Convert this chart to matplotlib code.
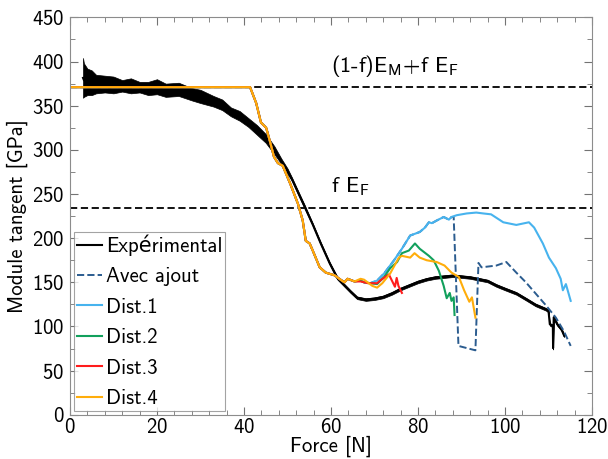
import numpy as np
import matplotlib
matplotlib.use("Agg")
import matplotlib.pyplot as plt

plt.rcParams['font.family'] = ['cmss10', 'DejaVu Sans']
plt.rcParams['axes.unicode_minus'] = False
plt.rcParams['axes.formatter.use_mathtext'] = True
plt.rcParams['mathtext.fontset'] = 'cm'

# courbe experimentale (bande du bruit : bas / haut)
exp_force = [3.0, 3.2, 4, 5, 6, 8, 10, 12, 14, 16, 18, 20, 22, 25, 28, 30, 33, 35, 37, 39,
             41, 43, 45, 47, 48.6, 50, 51, 52.4, 54, 55.8, 57.6, 59.7, 61.5, 63.1, 64.5, 66,
             68, 70, 72, 74, 76, 78, 80, 82, 84, 86, 88, 90, 92, 94, 96, 98, 100, 102.6, 105,
             107, 109.4, 110.0, 110.3, 111.0, 111.05, 111.2, 112, 113, 113.6]
exp_bas = [359, 360, 362, 362, 364, 365, 364, 366, 364, 365, 362, 363, 360, 361, 356, 353, 349, 345, 338, 333,
           326, 317, 308, 295, 284, 273, 265, 250, 233, 214, 193, 170, 153, 145, 138, 131,
           129, 130, 132, 136, 141, 145, 149, 152, 154, 155, 156, 155, 154, 152, 150, 145, 141, 136, 129,
           123, 118, 116, 101, 99, 74, 109, 101, 95, 88]
exp_haut = [404, 398, 392, 390, 385, 384, 383, 379, 381, 377, 377, 380, 375, 376, 370, 368, 361, 357, 348, 344,
            336, 328, 318, 304, 290, 279, 269, 254, 237, 217, 196, 173, 156, 148, 141, 134,
            132, 133, 135, 139, 144, 148, 152, 155, 157, 158, 159, 158, 157, 155, 153, 148, 144, 139, 132,
            126, 121, 119, 104, 102, 77, 112, 104, 98, 91]

# partie commune des distributions
base_force = [0, 41.4, 42.8, 43.9, 45.1, 46.0, 46.9, 47.8, 48.9, 50.6, 52.4, 53.5, 54.2, 55.1, 55.8,
              57.4, 58.8, 60.8, 62.2, 63.1, 63.8, 65.4]
base_mod = [371, 371, 353, 331, 325, 309, 292, 285, 282, 262, 239, 220, 197, 194, 186,
            167, 161, 158, 153, 150, 154, 151]

d1_force = [66.8, 67.6, 69.0, 70.6, 72.2, 74.5, 76.3, 78.2, 79.3, 80.4, 81.6, 82.5, 83.2, 84.3, 85.9,
            87.1, 87.7, 88.9, 91.2, 93.4, 95.0, 96.8, 99.6, 102.6, 105.5, 106.7, 108.7, 110.1,
            111.7, 112.8, 113.3, 114.0, 115.1]
d1_mod = [152, 150, 149, 152, 160, 175, 188, 203, 205, 207, 212, 218, 217, 220, 224,
          221, 224, 226, 228, 229, 228, 227, 218, 215, 218, 212, 194, 178,
          166, 154, 141, 148, 129]

d2_force = [66.8, 67.6, 69.0, 70.6, 72.2, 73.6, 75.2, 76.3, 77.9, 79.3, 80.4, 82.5, 83.6, 84.8,
            85.9, 86.6, 87.3, 87.7, 88.2, 88.4]
d2_mod = [152, 150, 149, 148, 156, 166, 173, 183, 186, 194, 188, 180, 175, 163,
          146, 132, 138, 129, 133, 113]

d3_force = [66.8, 68.5, 70.6, 71.3, 73.3, 74.0, 74.7, 75.1, 75.5, 76.3]
d3_mod = [151, 149, 149, 152, 159, 152, 145, 155, 146, 138]

d4_force = [66.8, 67.6, 69.5, 70.6, 71.8, 73.6, 75.6, 76.3, 78.2, 79.2, 80.4, 82.0, 84.3, 86.1,
            87.7, 89.4, 90.6, 91.8, 92.4, 93.2]
d4_mod = [154, 153, 146, 144, 149, 160, 178, 180, 178, 183, 178, 175, 173, 169,
          161, 156, 141, 128, 133, 110]

ajout_force = [88.2, 89.3, 93.2, 93.9, 94.6, 98.0, 100.3, 102.6, 104.8, 107.1, 109.4, 111.7, 113.5, 115.1]
ajout_mod = [224, 78, 73, 172, 167, 169, 173, 161, 150, 137, 124, 110, 95, 78]

E_melange = 371
E_fibre = 234


def serie(f, m):
    return np.array(base_force + f), np.array(base_mod + m)


fig = plt.figure(figsize=(6.08, 4.59), dpi=100)
ax = fig.add_axes([0.1151, 0.0963, 0.8586, 0.8658])

ax.axhline(E_melange, color="k", ls="--", lw=1.3, dashes=(4, 2))
ax.axhline(E_fibre, color="k", ls="--", lw=1.3, dashes=(4, 2))

ef = np.array(exp_force)
lo = np.array(exp_bas)
hi = np.array(exp_haut)
ax.fill_between(ef, lo, hi, color="k", lw=0.5)
ax.plot(ef, (lo + hi) / 2, color="k", lw=1.5, label="Expérimental")

# avec ajout : suit Dist.1 jusqu'a la chute
i = d1_force.index(87.7)
fa, ma = serie(d1_force[:i + 1] + ajout_force, d1_mod[:i + 1] + ajout_mod)
ax.plot(fa, ma, color="#2b5c8f", ls="--", lw=1.4, label="Avec ajout")

f1, m1 = serie(d1_force, d1_mod)
ax.plot(f1, m1, color="#47b3ee", lw=1.5, label="Dist.1")
f2, m2 = serie(d2_force, d2_mod)
ax.plot(f2, m2, color="#12a05c", lw=1.5, label="Dist.2")
f3, m3 = serie(d3_force, d3_mod)
ax.plot(f3, m3, color="#ff1c1c", lw=1.5, label="Dist.3")
f4, m4 = serie(d4_force, d4_mod)
ax.plot(f4, m4, color="#ffad0a", lw=1.5, label="Dist.4")

ax.text(60, 395, r"(1-f)E$_\mathsf{M}$+f E$_\mathsf{F}$", fontsize=16, va="center")
ax.text(60, 258, r"f E$_\mathsf{F}$", fontsize=16, va="center")

ax.set_xlim(0, 120)
ax.set_ylim(0, 450)
ax.set_xticks(np.arange(0, 121, 20))
ax.set_xticks(np.arange(0, 121, 4), minor=True)
ax.set_yticks(np.arange(0, 451, 50))
ax.set_yticks(np.arange(0, 451, 25), minor=True)
ax.tick_params(which="both", direction="in", top=True, right=True, labelsize=15, color="0.45")
ax.tick_params(axis="x", pad=2)
ax.tick_params(axis="y", pad=4)
ax.tick_params(which="major", length=6)
ax.tick_params(which="minor", length=3.5)
for s in ax.spines.values():
    s.set_color("0.55")
ax.set_xlabel("Force [N]", fontsize=15, labelpad=-1)
ax.set_ylabel("Module tangent [GPa]", fontsize=15, labelpad=3)

leg = ax.legend(loc="lower left", fontsize=15, fancybox=False, edgecolor="0.55",
                handlelength=1.2, handletextpad=0.2, labelspacing=0.55, borderpad=0.12,
                borderaxespad=0.2)
leg.get_frame().set_linewidth(0.8)

fig.savefig("out.png", dpi=100)
